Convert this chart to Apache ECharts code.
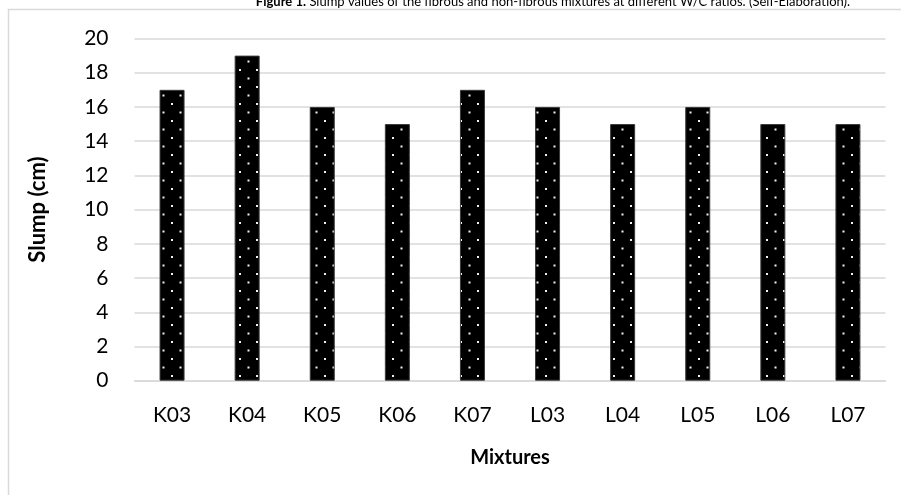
<!DOCTYPE html>
<html>
<head>
<meta charset="utf-8">
<style>
  html, body { margin: 0; padding: 0; background: #fff; }
  #chart { width: 901px; height: 495px; }
</style>
<script src="https://cdn.jsdelivr.net/npm/echarts@6/dist/echarts.min.js"></script>
</head>
<body>
<div id="chart"></div>
<script>
// Mixture codes and measured slump values (cm)
const mixtures = ['K03', 'K04', 'K05', 'K06', 'K07', 'L03', 'L04', 'L05', 'L06', 'L07'];
const slumpCm = [17, 19, 16, 15, 17, 16, 15, 16, 15, 15];
const yTicks = [0, 2, 4, 6, 8, 10, 12, 14, 16, 18, 20];

const FONT = 'Lato, "Open Sans", "Noto Sans", sans-serif';

// Black fill with a staggered grid of small white dots
function dottedPattern() {
  const c = document.createElement('canvas');
  c.width = 17; c.height = 17;
  const g = c.getContext('2d');
  g.fillStyle = '#000';
  g.fillRect(0, 0, 17, 17);
  g.fillStyle = '#f2f2f2';
  g.fillRect(1, 1, 2, 2);
  g.fillRect(9.5, 9.5, 2, 2);
  return c;
}

const chart = echarts.init(document.getElementById('chart'), null, { renderer: 'canvas' });

chart.setOption({
  backgroundColor: '#fff',
  animation: false,
  title: {
    text: '{b|Figure 1.} Slump values of the fibrous and non-fibrous mixtures at different W/C ratios. (Self-Elaboration).',
    left: 548,
    textAlign: 'center',
    top: -10,
    textStyle: {
      fontFamily: FONT,
      fontSize: 13,
      fontWeight: 'normal',
      color: '#000',
      rich: { b: { fontFamily: FONT, fontSize: 13, fontWeight: 'bold', color: '#000' } }
    }
  },
  graphic: [{
    type: 'rect',
    shape: { x: 8.5, y: 9.5, width: 910, height: 500 },
    style: { fill: 'none', stroke: '#d9d9d9', lineWidth: 1.5 },
    silent: true
  }],
  grid: { left: 134.5, right: 15.5, top: 38.5, bottom: 114.3 },
  xAxis: {
    type: 'category',
    data: mixtures,
    name: 'Mixtures',
    nameLocation: 'middle',
    nameGap: 67,
    nameTextStyle: { fontFamily: FONT, fontSize: 20, fontWeight: 'bold', color: '#000' },
    axisLine: { lineStyle: { color: '#d9d9d9', width: 1.5 } },
    axisTick: { show: false },
    axisLabel: { fontFamily: FONT, fontSize: 21, color: '#000', margin: 24 }
  },
  yAxis: {
    type: 'value',
    min: yTicks[0],
    max: yTicks[yTicks.length - 1],
    interval: yTicks[1] - yTicks[0],
    name: 'Slump (cm)',
    nameLocation: 'middle',
    nameGap: 86,
    nameRotate: 90,
    nameTextStyle: { fontFamily: FONT, fontSize: 22, fontWeight: 'bold', color: '#000' },
    axisLine: { show: false },
    axisTick: { show: false },
    axisLabel: { fontFamily: FONT, fontSize: 21, color: '#000', margin: 26 },
    splitLine: { lineStyle: { color: '#d9d9d9', width: 1.5 } }
  },
  series: [{
    type: 'bar',
    data: slumpCm,
    barWidth: 25,
    itemStyle: {
      color: { image: dottedPattern(), repeat: 'repeat' },
      borderColor: '#3a3a3a',
      borderWidth: 1
    }
  }]
});
</script>
</body>
</html>
